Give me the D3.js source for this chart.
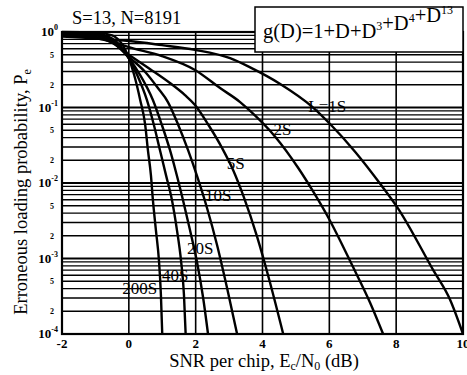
<!DOCTYPE html>
<html>
<head>
<meta charset="utf-8">
<script src="https://cdn.jsdelivr.net/npm/d3@7"></script>
<style>
  body { margin: 0; background: #fff; }
  svg text { font-family: "Liberation Serif", "Times New Roman", serif; fill: #000; }
</style>
</head>
<body>
<div id="chart" style="width:467px;height:375px"></div>
<script>
// SNR per chip (dB) and erroneous loading probability, one pair of arrays per curve
var snr1S   = [-2, -1, -0.5, 0, 0.99, 1.98, 3.03, 3.63, 4.53, 5.49, 6.03, 6.77, 7.55, 8.03, 9.11, 9.62, 10.0];
var pe1S    = [0.87, 0.82, 0.79, 0.76, 0.67, 0.58, 0.45, 0.34, 0.205, 0.102, 0.060, 0.026, 0.0094, 0.0048, 7.0e-4, 2.8e-4, 1e-4];
var snr2S   = [-2, -1, -0.5, 0, 0.99, 1.98, 2.73, 3.33, 3.63, 4.38, 5.07, 5.51, 5.96, 6.71, 7.22, 7.61];
var pe2S    = [0.93, 0.83, 0.74, 0.63, 0.48, 0.314, 0.181, 0.118, 0.090, 0.041, 0.0158, 0.0078, 0.00355, 7.7e-4, 2.6e-4, 1e-4];
var snr5S   = [-2, -1, -0.5, 0, 0.63, 1.23, 1.68, 1.98, 2.37, 2.79, 3.12, 3.42, 3.84, 4.23, 4.62];
var pe5S    = [0.97, 0.87, 0.72, 0.50, 0.324, 0.211, 0.146, 0.108, 0.060, 0.0291, 0.0149, 0.0069, 0.00193, 4.7e-4, 1e-4];
var snr10S  = [-2, -1, -0.5, 0, 0.49, 0.87, 1.17, 1.47, 1.77, 2.04, 2.34, 2.64, 2.94, 3.24];
var pe10S   = [0.985, 0.91, 0.74, 0.467, 0.295, 0.181, 0.118, 0.060, 0.0274, 0.0124, 0.00467, 0.00151, 4.06e-4, 1e-4];
var snr20S  = [-2, -1, -0.5, 0, 0.34, 0.72, 0.99, 1.23, 1.41, 1.62, 1.83, 2.04, 2.22, 2.37];
var pe20S   = [0.99, 0.94, 0.78, 0.45, 0.269, 0.126, 0.0586, 0.0274, 0.0140, 0.00596, 0.00238, 9.0e-4, 3.09e-4, 1e-4];
var snr40S  = [-2, -1, -0.5, 0, 0.25, 0.54, 0.75, 0.93, 1.11, 1.29, 1.44, 1.56, 1.65, 1.70];
var pe40S   = [0.995, 0.96, 0.82, 0.45, 0.269, 0.126, 0.0586, 0.0274, 0.0128, 0.00596, 0.00238, 9.55e-4, 3.29e-4, 1e-4];
var snr200S = [-2, -1, -0.5, 0, 0.16, 0.34, 0.49, 0.57, 0.66, 0.72, 0.81, 0.90, 0.96, 1.0];
var pe200S  = [1.0, 0.99, 0.90, 0.45, 0.269, 0.126, 0.0586, 0.0274, 0.0128, 0.00596, 0.00238, 9.55e-4, 3.29e-4, 1e-4];

var curveNames = ["L=1S", "2S", "5S", "10S", "20S", "40S", "200S"];
var curveSnr = [snr1S, snr2S, snr5S, snr10S, snr20S, snr40S, snr200S];
var curvePe  = [pe1S, pe2S, pe5S, pe10S, pe20S, pe40S, pe200S];
// where each curve's name is written: [snr, pe]
var labelPos = [[5.37, 0.087], [4.33, 0.043], [2.93, 0.0153], [2.28, 0.0057], [1.74, 1.15e-3], [0.99, 5.0e-4], [-0.2, 3.4e-4]];

var xTicks = [-2, 0, 2, 4, 6, 8, 10];
var xGrid = [0, 2, 4, 6, 8];
var decades = [-4, -3, -2, -1, 0];
var minorLabels = [5, 2];

var width = 467, height = 375,
    pLeft = 62, pRight = 463, pTop = 32, pBottom = 334;

var svg = d3.select("#chart").append("svg")
  .attr("width", width).attr("height", height);

var x = d3.scaleLinear().domain([-2, 10]).range([pLeft, pRight]);
var y = d3.scaleLog().domain([1e-4, 1]).range([pBottom, pTop]);

// horizontal grid: every 1..9 x 10^d
var hLines = [];
decades.forEach(function(d){
  if (d == 0) { hLines.push({v: 1, major: true}); return; }
  for (var k = 1; k <= 9; k++) hLines.push({v: k * Math.pow(10, d), major: k == 1});
});

var grid = svg.append("g");
grid.selectAll("line.h").data(hLines).enter().append("line")
  .attr("x1", pLeft).attr("x2", pRight)
  .attr("y1", function(d){ return y(d.v); })
  .attr("y2", function(d){ return y(d.v); })
  .attr("stroke", "#000")
  .attr("stroke-width", function(d){ return d.major ? 2.2 : 1.3; });

grid.selectAll("line.v").data(xGrid).enter().append("line")
  .attr("x1", function(d){ return x(d); }).attr("x2", function(d){ return x(d); })
  .attr("y1", pTop).attr("y2", pBottom)
  .attr("stroke", "#000").attr("stroke-width", 1.6);

svg.append("rect")
  .attr("x", pLeft).attr("y", pTop)
  .attr("width", pRight - pLeft).attr("height", pBottom - pTop)
  .attr("fill", "none").attr("stroke", "#000").attr("stroke-width", 2.2);

// curves
svg.append("clipPath").attr("id", "clip").append("rect")
  .attr("x", pLeft).attr("y", pTop - 2).attr("width", pRight - pLeft + 1).attr("height", pBottom - pTop + 3);

var line = d3.line()
  .x(function(d){ return x(d[0]); })
  .y(function(d){ return y(d[1]); })
  .curve(d3.curveMonotoneX);

svg.append("g").attr("clip-path", "url(#clip)")
  .selectAll("path").data(curveNames).enter().append("path")
  .attr("d", function(d, i){
    return line(curveSnr[i].map(function(s, j){ return [s, curvePe[i][j]]; }));
  })
  .attr("fill", "none").attr("stroke", "#000").attr("stroke-width", 2.4);

svg.append("g").selectAll("text").data(curveNames).enter().append("text")
  .attr("x", function(d, i){ return x(labelPos[i][0]); })
  .attr("y", function(d, i){ return y(labelPos[i][1]); })
  .attr("font-size", 17)
  .text(function(d){ return d; });

// x axis tick labels
svg.append("g").selectAll("text").data(xTicks).enter().append("text")
  .attr("x", function(d){ return x(d); })
  .attr("y", 348)
  .attr("text-anchor", "middle")
  .attr("font-size", 13).attr("font-weight", "bold")
  .text(function(d){ return d; });

// y axis tick labels
var yl = svg.append("g");
decades.forEach(function(d){
  var t = yl.append("text")
    .attr("x", 58).attr("y", y(Math.pow(10, d)) + 4)
    .attr("text-anchor", "end").attr("font-size", 13).attr("font-weight", "bold");
  t.append("tspan").text("10");
  t.append("tspan").attr("dy", -6).attr("font-size", 8).text(d == 0 ? "0" : "-" + (-d));
  if (d < 0) {
    minorLabels.forEach(function(m){
      yl.append("text")
        .attr("x", 54).attr("y", y(m * Math.pow(10, d)) + 3)
        .attr("text-anchor", "end").attr("font-size", 8).attr("font-weight", "bold")
        .text(m);
    });
  }
});

// axis titles
var xt = svg.append("text")
  .attr("x", 264).attr("y", 367)
  .attr("text-anchor", "middle").attr("font-size", 18.5);
xt.append("tspan").text("SNR per chip, E");
xt.append("tspan").attr("font-size", 12).attr("dy", 3).text("c");
xt.append("tspan").attr("dy", -3).text("/N");
xt.append("tspan").attr("font-size", 12).attr("dy", 3).text("0");
xt.append("tspan").attr("dy", -3).text(" (dB)");

var yt = svg.append("text")
  .attr("transform", "translate(27,192) rotate(-90)")
  .attr("text-anchor", "middle").attr("font-size", 18.5);
yt.append("tspan").text("Erroneous loading probability, P");
yt.append("tspan").attr("font-size", 12).attr("dy", 4).text("e");

svg.append("text")
  .attr("x", 72).attr("y", 24)
  .attr("font-size", 18.5)
  .text("S=13, N=8191");

// generator polynomial box
svg.append("rect")
  .attr("x", 255).attr("y", 7).attr("width", 208).attr("height", 45)
  .attr("fill", "#fff").attr("stroke", "#000").attr("stroke-width", 1.5);
var g = svg.append("text").attr("x", 263).attr("y", 38).attr("font-size", 20.5);
[["g(D)=1+D+D", "3"], ["+D", "4"], ["+D", "13"]].forEach(function(p){
  g.append("tspan").text(p[0]);
  g.append("tspan").attr("dy", -8).attr("font-size", 12).text(p[1]);
  g.append("tspan").attr("dy", 8).text("");
});
</script>
</body>
</html>
